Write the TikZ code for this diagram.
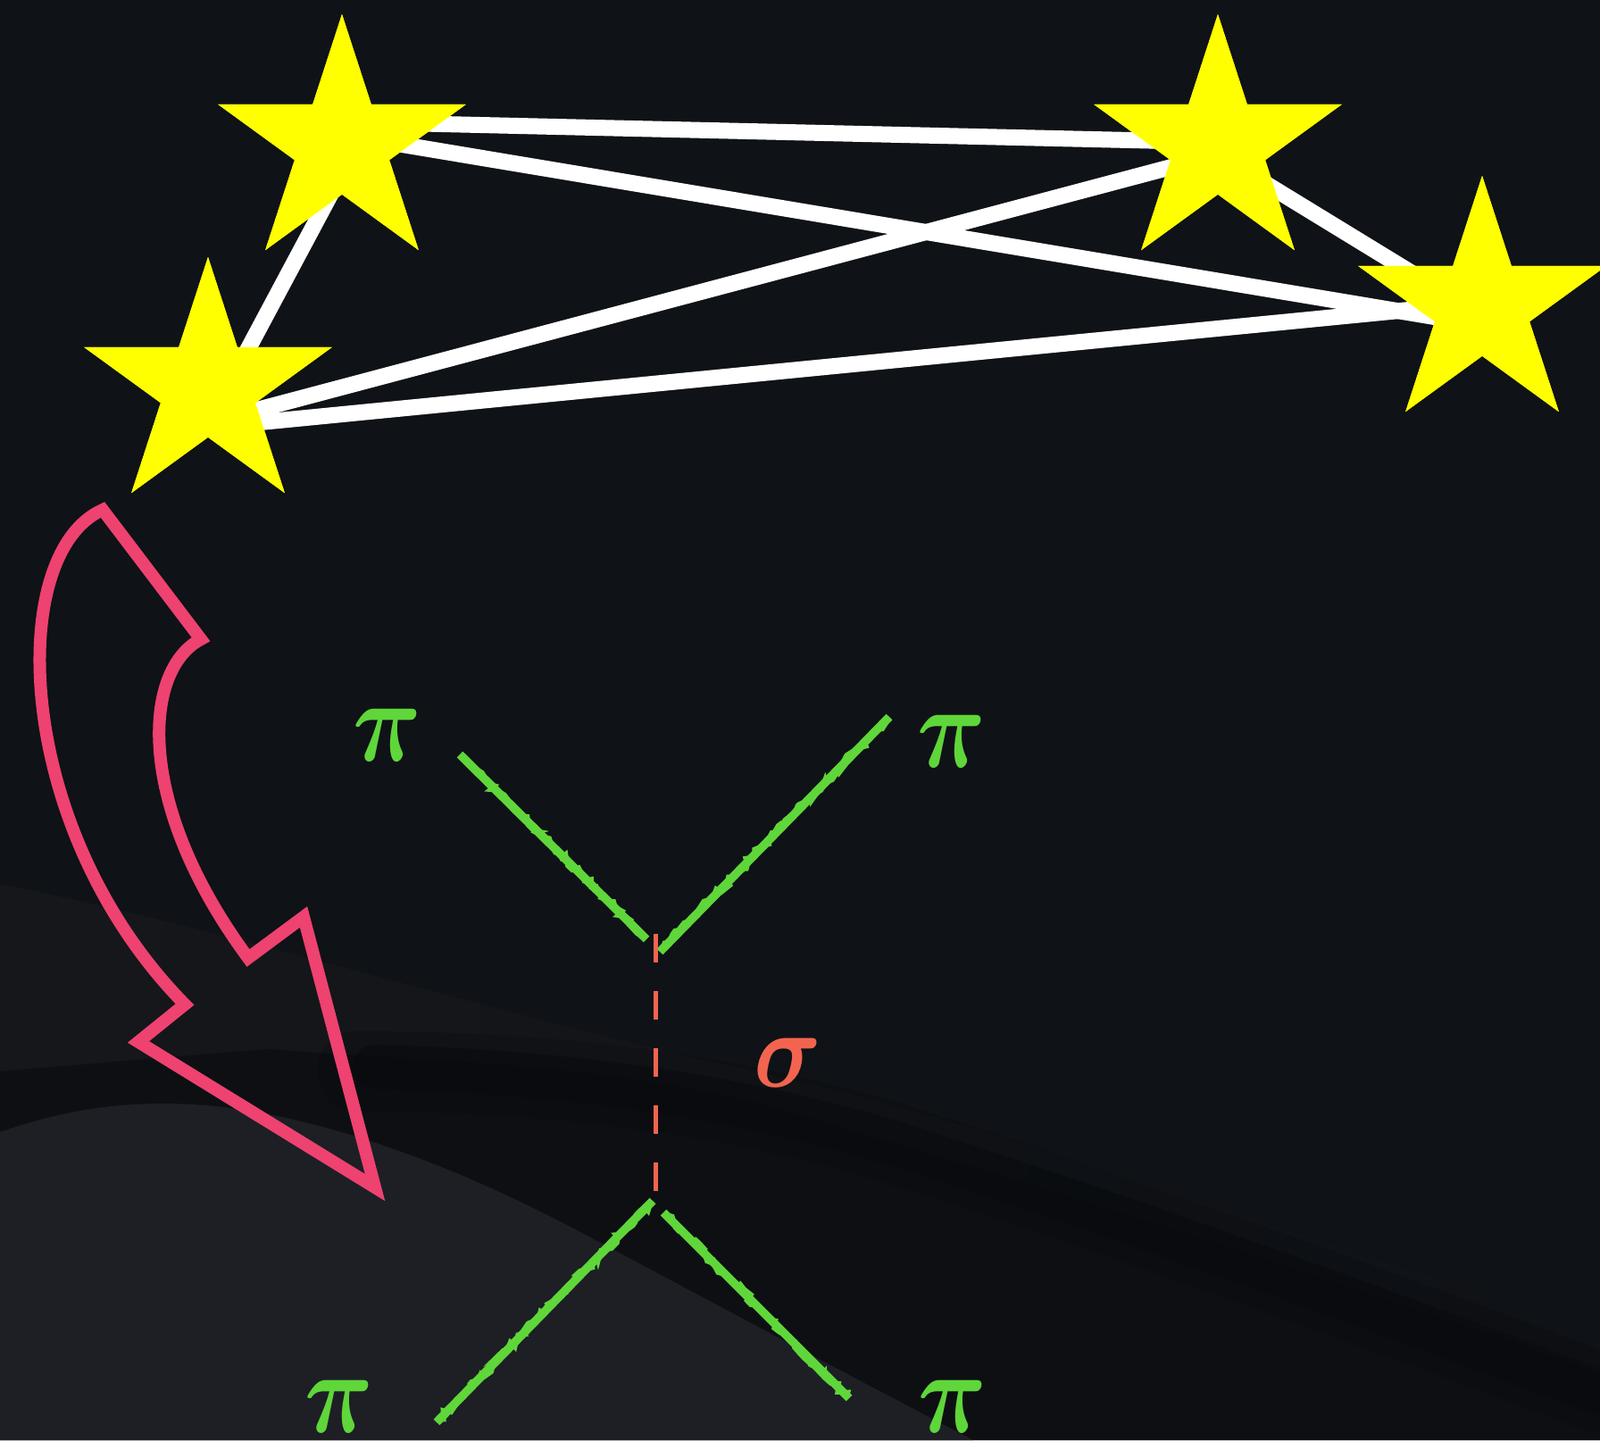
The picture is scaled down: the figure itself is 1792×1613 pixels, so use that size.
\documentclass[tikz,border=0pt]{standalone}
\usetikzlibrary{shapes.geometric,calc,decorations.pathmorphing}
\definecolor{bgc}{RGB}{15,18,22}
\definecolor{bgmid}{RGB}{22,23,27}
\definecolor{bglow}{RGB}{13,15,19}
\definecolor{bgband}{RGB}{8,10,13}
\definecolor{hill}{RGB}{29,31,37}
\definecolor{staryel}{RGB}{255,255,0}
\definecolor{chalk}{RGB}{95,214,58}
\definecolor{sigc}{RGB}{242,100,80}
\definecolor{arrowpink}{RGB}{238,66,112}
\tikzset{
  starnode/.style={star, star points=5, star point ratio=2.618, minimum size=2.92cm, inner sep=0pt, fill=staryel, draw=none},
  edgeline/.style={white, line width=0.18cm},
  chalkline/.style={chalk, line width=0.095cm},
  chalkrough/.style={chalk, line width=0.05cm, decorate, decoration={random steps, segment length=1.6pt, amplitude=1.3pt}},
  pilabel/.style={text=chalk, inner sep=0pt, xscale=1.22, yscale=1.5, font=\Huge\boldmath},
  siglabel/.style={text=sigc, inner sep=0pt, xscale=1.2, yscale=1.4, font=\Huge\boldmath},
  sigdash/.style={sigc, line width=0.05cm, dash pattern=on 0.32cm off 0.32cm},
  bigarrow/.style={draw=arrowpink, line width=0.14cm, line join=miter, miter limit=10}
}
\begin{document}
\begin{tikzpicture}[x=0.01cm,y=-0.01cm]
\useasboundingbox (0,0) rectangle (1792,1613);
\clip (0,0) rectangle (1792,1613);
% background
\fill[bgc] (0,0) rectangle (1792,1613);
\shade[left color=bgmid, right color=bgc] (0,990) .. controls (250,1040) and (500,1120) .. (800,1190) .. controls (1150,1260) and (1450,1400) .. (1792,1480) -- (1792,1613) -- (0,1613) -- cycle;
\fill[bglow] (300,1175) .. controls (500,1190) and (700,1190) .. (900,1250) .. controls (1200,1340) and (1500,1430) .. (1792,1540) -- (1792,1613) -- (0,1613) -- (0,1200) -- cycle;
\draw[bgband, line width=0.9cm, opacity=0.25, line cap=round] (400,1200) .. controls (600,1200) and (800,1220) .. (1000,1280) .. controls (1250,1360) and (1500,1450) .. (1792,1560);
\draw[bgband, line width=0.5cm, opacity=0.5, line cap=round] (420,1195) .. controls (600,1200) and (800,1220) .. (1000,1280) .. controls (1250,1360) and (1500,1450) .. (1792,1560);
\fill[hill] (0,1268) .. controls (80,1240) and (150,1232) .. (230,1238) .. controls (350,1248) and (500,1300) .. (650,1380) .. controls (800,1460) and (950,1540) .. (1090,1613) -- (0,1613) -- cycle;
% stars
\node[starnode] (A) at (383,162) {};
\node[starnode] (B) at (1364,162) {};
\node[starnode] (C) at (233,434) {};
\node[starnode] (D) at (1660,343) {};
% edges
\draw[edgeline] ($(A.center)+(17,-25.2)$) -- ($(B.center)+(0,-2.7)$);
\draw[edgeline] ($(A.center)+(17,-8.4)$) -- ($(D.center)+(-10,19.3)$);
\draw[edgeline] ($(C.center)+(0,39.6)$) -- ($(B.center)+(0,11.2)$);
\draw[edgeline] ($(C.center)+(17,43.1)$) -- ($(D.center)+(0,-4)$);
\draw[edgeline] ($(C.center)+(29.3,-14)$) -- ($(A.center)+(7.4,18)$);
\draw[edgeline] ($(B.center)+(0,11)$) -- ($(D.center)+(0,11)$);
% stars on top of the edges
\node[starnode] at (A) {};
\node[starnode] at (B) {};
\node[starnode] at (C) {};
\node[starnode] at (D) {};
% curved arrow
\draw[bigarrow] (115,571) -- (225,716)
  .. controls (160,750) and (150,900) .. (278,1073)
  -- (340,1027) -- (420,1330) -- (155,1167) -- (207,1125)
  .. controls (15,930) and (5,620) .. (115,571)
  -- cycle;
% diagram vertices
\coordinate (v1) at (734,1046);
\coordinate (v2) at (734,1334);
\coordinate (e1) at (515,845);
\coordinate (e2) at (996,803);
\coordinate (e3) at (489,1593);
\coordinate (e4) at (951,1566);
\coordinate (w1) at (724,1052);
\coordinate (w2) at (739,1066);
\coordinate (w3) at (731,1345);
\coordinate (w4) at (743,1358);
\foreach \s/\t in {e1/w1, e2/w2, w3/e3, w4/e4} {
  \draw[chalkline] (\s) -- (\t);
  \draw[chalkrough] ($(\s)!0.01!(\t)$) -- ($(\s)!0.99!(\t)$);
}
\draw[sigdash] (v1) -- (v2);
% labels
\node[pilabel] (p1) at (434,823) {$\pi$};
\node[pilabel] (p2) at (1066,830) {$\pi$};
\node[pilabel] (p3) at (380,1575) {$\pi$};
\node[pilabel] (p4) at (1067,1575) {$\pi$};
\node[siglabel] (s1) at (882,1190) {$\sigma$};
\end{tikzpicture}
\end{document}
